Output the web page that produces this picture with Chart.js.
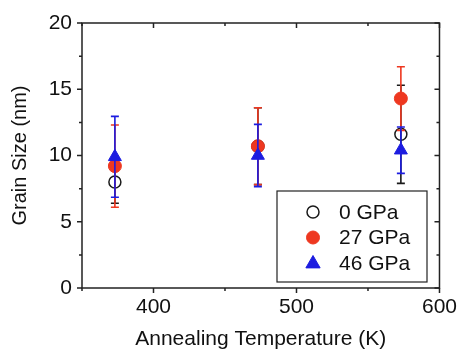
<!DOCTYPE html>
<html>
<head>
<meta charset="utf-8">
<script src="https://cdn.jsdelivr.net/npm/chart.js@4"></script>
<style>
  html, body { margin: 0; padding: 0; background: #fff; }
  #wrap { width: 464px; height: 352px; }
</style>
</head>
<body>
<div id="wrap"><canvas id="grain"></canvas></div>
<script>
// values
const temps = [373, 473, 573];
const labels = ['0 GPa', '27 GPa', '46 GPa'];
const size0 = [8.0, 10.7, 11.6];
const err0 = [1.6, 2.9, 3.7];
const size27 = [9.2, 10.7, 14.3];
const err27 = [3.1, 2.9, 2.4];
const size46 = [9.9, 10.0, 10.4];
const err46 = [3.05, 2.35, 1.75];
const xTicks = [400, 500, 600];
const yTicks = [0, 5, 10, 15, 20];

const FONT = 'Liberation Sans, Arial, sans-serif';
const axisColor = '#222';

function points(ys) {
    return temps.map((t, i) => ({x: t, y: ys[i]}));
}

// error bars drawn through the chart scales, before each dataset's markers
const errorBars = {
    id: 'errorBars',
    beforeDatasetDraw(chart, args) {
        const ds = chart.data.datasets[args.index];
        if (!ds.errors) return;
        const xs = chart.scales.x, ys = chart.scales.y;
        const ctx = chart.ctx;
        ctx.save();
        ctx.strokeStyle = ds.borderColor;
        ctx.lineWidth = 1.6;
        ds.data.forEach((p, i) => {
            const px = xs.getPixelForValue(p.x);
            const top = ys.getPixelForValue(p.y + ds.errors[i]);
            const bot = ys.getPixelForValue(p.y - ds.errors[i]);
            ctx.beginPath();
            ctx.moveTo(px, top); ctx.lineTo(px, bot);
            ctx.moveTo(px - 4, top); ctx.lineTo(px + 4, top);
            ctx.moveTo(px - 4, bot); ctx.lineTo(px + 4, bot);
            ctx.stroke();
        });
        ctx.restore();
    }
};

// box frame with ticks: out on left/bottom, in on top/right
const frame = {
    id: 'frame',
    afterDraw(chart) {
        const {left, right, top, bottom} = chart.chartArea;
        const xs = chart.scales.x, ys = chart.scales.y;
        const ctx = chart.ctx;
        ctx.save();
        ctx.strokeStyle = axisColor;
        ctx.lineWidth = 1.5;
        ctx.strokeRect(left, top, right - left, bottom - top);
        ctx.beginPath();
        for (let v = 0; v <= 20; v += 2.5) {
            const y = ys.getPixelForValue(v);
            const len = v % 5 === 0 ? 5 : 3;
            ctx.moveTo(left - len, y); ctx.lineTo(left, y);
            ctx.moveTo(right, y); ctx.lineTo(right - len, y);
        }
        for (let v = 350; v <= 600; v += 50) {
            const x = xs.getPixelForValue(v);
            const len = v % 100 === 0 ? 5 : 3;
            ctx.moveTo(x, bottom); ctx.lineTo(x, bottom + len);
            ctx.moveTo(x, top); ctx.lineTo(x, top + len);
        }
        ctx.stroke();
        ctx.restore();
    }
};

// legend box inside the plot, lower right
const boxLegend = {
    id: 'boxLegend',
    afterDraw(chart) {
        const ctx = chart.ctx;
        const bx = 277, by = 191, bw = 150, bh = 91;
        ctx.save();
        ctx.fillStyle = '#fff';
        ctx.fillRect(bx, by, bw, bh);
        ctx.strokeStyle = axisColor;
        ctx.lineWidth = 1.2;
        ctx.strokeRect(bx, by, bw, bh);
        ctx.font = '21px ' + FONT;
        ctx.textBaseline = 'middle';
        [0, 1, 2].forEach(i => {
            const ds = chart.data.datasets.find(d => d.label === labels[i]);
            const y = by + 21 + i * 25.5;
            ctx.fillStyle = ds.backgroundColor;
            ctx.strokeStyle = ds.borderColor;
            ctx.lineWidth = ds.borderWidth;
            ctx.beginPath();
            if (ds.pointStyle === 'triangle') {
                const r = ds.pointRadius;
                ctx.moveTo(313, y - r);
                ctx.lineTo(313 + r * 0.95, y + r * 0.65);
                ctx.lineTo(313 - r * 0.95, y + r * 0.65);
                ctx.closePath();
            } else {
                ctx.arc(313, y, ds.pointRadius, 0, Math.PI * 2);
            }
            ctx.fill();
            ctx.stroke();
            ctx.fillStyle = '#111';
            ctx.fillText(labels[i], 339, y + 1);
        });
        ctx.restore();
    }
};

new Chart(document.getElementById('grain'), {
    type: 'scatter',
    data: {
        datasets: [
            {
                label: labels[0],
                data: points(size0),
                errors: err0,
                pointStyle: 'circle',
                pointRadius: 6,
                backgroundColor: 'rgba(0,0,0,0)',
                borderColor: '#1a1a1a',
                borderWidth: 1.5,
                order: 3
            },
            {
                label: labels[1],
                data: points(size27),
                errors: err27,
                pointStyle: 'circle',
                pointRadius: 6.5,
                backgroundColor: '#ee3820',
                borderColor: '#ee3820',
                borderWidth: 1,
                order: 2
            },
            {
                label: labels[2],
                data: points(size46),
                errors: err46,
                pointStyle: 'triangle',
                pointRadius: 7.5,
                backgroundColor: '#1c1ce0',
                borderColor: '#1c1ce0',
                borderWidth: 1,
                order: 1
            }
        ]
    },
    options: {
        responsive: true,
        maintainAspectRatio: false,
        animation: false,
        layout: {padding: {top: 23, right: 18, left: 0, bottom: 0}},
        plugins: {
            legend: {display: false},
            tooltip: {enabled: false}
        },
        scales: {
            x: {
                type: 'linear',
                min: 350,
                max: 600,
                afterBuildTicks(scale) { scale.ticks = xTicks.map(v => ({value: v})); },
                afterFit(scale) { scale.height = 64; },
                grid: {display: false, drawTicks: false},
                border: {display: false},
                ticks: {
                    padding: 7,
                    color: '#111',
                    font: {family: FONT, size: 21}
                },
                title: {
                    display: true,
                    text: 'Annealing Temperature (K)',
                    color: '#111',
                    padding: {top: 0, bottom: 0},
                    font: {family: FONT, size: 21}
                }
            },
            y: {
                min: 0,
                max: 20,
                afterBuildTicks(scale) { scale.ticks = yTicks.map(v => ({value: v})); },
                afterFit(scale) { scale.width = 82; },
                grid: {display: false, drawTicks: false},
                border: {display: false},
                ticks: {
                    padding: 10,
                    color: '#111',
                    font: {family: FONT, size: 21}
                },
                title: {
                    display: true,
                    text: 'Grain Size (nm)',
                    color: '#111',
                    padding: {top: 8, bottom: 0},
                    font: {family: FONT, size: 20}
                }
            }
        }
    },
    plugins: [errorBars, frame, boxLegend]
});
</script>
</body>
</html>
